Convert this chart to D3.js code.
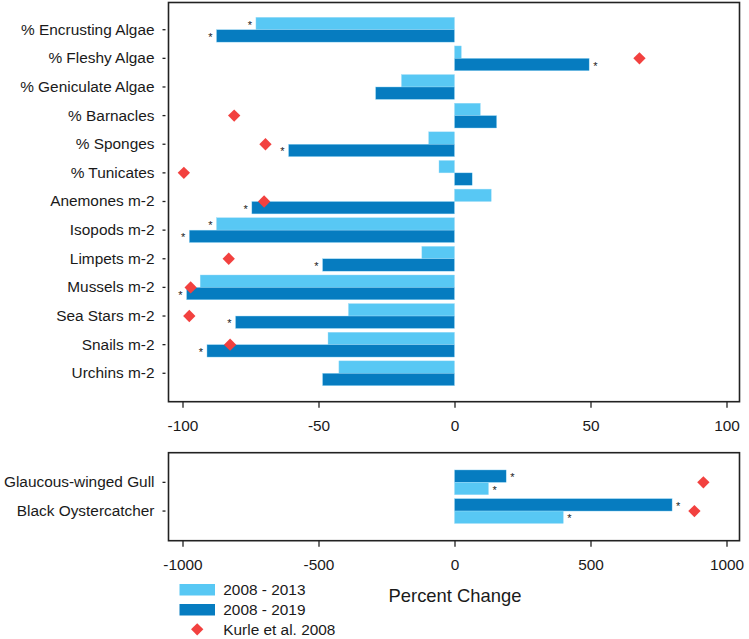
<!DOCTYPE html>
<html>
<head>
<meta charset="utf-8">
<script src="https://cdn.jsdelivr.net/npm/d3@7"></script>
<style>
  body { margin: 0; background: #fff; }
  svg { font-family: "Liberation Sans", Arial, sans-serif; }
</style>
</head>
<body>
<div id="chart"></div>
<script>
// Top panel: intertidal taxa, percent change
const categories = [
  '% Encrusting Algae', '% Fleshy Algae', '% Geniculate Algae', '% Barnacles',
  '% Sponges', '% Tunicates', 'Anemones m-2', 'Isopods m-2', 'Limpets m-2',
  'Mussels m-2', 'Sea Stars m-2', 'Snails m-2', 'Urchins m-2'
];
const change2013 = [-73, 2.5, -19.5, 9.5, -9.5, -5.7, 13.5, -87.5, -12, -93.5, -39, -46.5, -42.5];
const change2019 = [-87.5, 49.5, -29, 15.5, -61, 6.5, -74.5, -97.5, -48.5, -98.5, -80.5, -91, -48.5];
const kurle = [null, 68, null, -81, -69.5, -99.5, -70, null, -83, -97, -97.5, -82.5, null];
const star2013 = [1, 0, 0, 0, 0, 0, 0, 1, 0, 0, 0, 0, 0];
const star2019 = [1, 1, 0, 0, 1, 0, 1, 1, 1, 1, 1, 1, 0];

// Bottom panel: birds
const birds = ['Glaucous-winged Gull', 'Black Oystercatcher'];
const birds2013 = [125, 400];
const birds2019 = [190, 800];
const birdsKurle = [915, 882];
const birdsStar2013 = [1, 1];
const birdsStar2019 = [1, 1];

const topTicks = [-100, -50, 0, 50, 100];
const bottomTicks = [-1000, -500, 0, 500, 1000];
const legendLabels = ['2008 - 2013', '2008 - 2019', 'Kurle et al. 2008'];

const colLight = '#58c8f4';
const colDark = '#067cc0';
const colRed = '#f2413f';
const ink = '#1a1a1a';

const W = 749, H = 639;
const svg = d3.select('#chart').append('svg')
  .attr('width', W).attr('height', H);
svg.append('rect').attr('width', W).attr('height', H).attr('fill', '#fff');

const barH = 12.4;
const fs = 15.4;

function panel(opts) {
  const g = svg.append('g');
  const x = d3.scaleLinear().domain(opts.domain).range([182.5, 726.5]);
  const y = d3.scaleBand().domain(opts.cats).range(opts.yRange).padding(0);
  const half = y.bandwidth() / 2;
  const rows = opts.cats.map((c, i) => ({
    cat: c, a: opts.a[i], b: opts.b[i], k: opts.k[i], sa: opts.sa[i], sb: opts.sb[i]
  }));

  // bars: series order top to bottom within group
  const series = opts.order;
  const sub = d3.scaleBand().domain(series).range([-barH, barH]);
  const color = { a: colLight, b: colDark };
  series.forEach(s => {
    g.selectAll('.bar-' + s).data(rows).enter().append('rect')
      .attr('x', d => x(Math.min(0, d[s])))
      .attr('width', d => Math.abs(x(d[s]) - x(0)))
      .attr('y', d => y(d.cat) + half + sub(s))
      .attr('height', sub.bandwidth())
      .attr('fill', color[s])
      .attr('stroke', '#9fdcf7').attr('stroke-width', 0.4);

    g.selectAll('.star-' + s).data(rows.filter(d => d['s' + s])).enter().append('text')
      .attr('x', d => x(d[s]) + (d[s] < 0 ? -4 : 4))
      .attr('y', d => y(d.cat) + half + sub(s) + sub.bandwidth() / 2 + 5)
      .attr('text-anchor', d => d[s] < 0 ? 'end' : 'start')
      .attr('font-size', 11).attr('fill', ink)
      .text('*');
  });

  // Kurle diamonds
  g.selectAll('.kurle').data(rows.filter(d => d.k != null)).enter().append('path')
    .attr('d', d3.symbol(d3.symbolSquare, 76)())
    .attr('transform', d => `translate(${x(d.k)},${y(d.cat) + half}) rotate(45)`)
    .attr('fill', colRed);

  // frame
  g.append('rect')
    .attr('x', 168.5).attr('y', opts.box[0])
    .attr('width', 571).attr('height', opts.box[1] - opts.box[0])
    .attr('fill', 'none').attr('stroke', '#222').attr('stroke-width', 1.6);

  // x axis
  const xa = g.append('g')
    .attr('transform', `translate(0,${opts.box[1]})`)
    .call(d3.axisBottom(x).tickValues(opts.ticks).tickSize(6).tickPadding(12).tickFormat(d3.format('d')));
  xa.select('.domain').remove();
  xa.selectAll('line').attr('stroke', '#222').attr('stroke-width', 1.3);
  xa.selectAll('text').attr('font-size', fs).attr('fill', ink)
    .attr('font-family', '"Liberation Sans", Arial, sans-serif')
    .text(d => d < 0 ? '-' + Math.abs(d) : d);

  // y axis
  const ya = g.append('g')
    .attr('transform', 'translate(168.5,0)')
    .call(d3.axisLeft(y).tickSize(6).tickPadding(8));
  ya.select('.domain').remove();
  ya.selectAll('line').attr('stroke', '#222').attr('stroke-width', 1.3).attr('x1', -3);
  ya.selectAll('text').attr('font-size', fs).attr('fill', ink)
    .attr('x', -14)
    .attr('font-family', '"Liberation Sans", Arial, sans-serif');
}

panel({
  cats: categories, a: change2013, b: change2019, k: kurle, sa: star2013, sb: star2019,
  order: ['a', 'b'], domain: [-100, 100], yRange: [15.4, 387.6], box: [2.5, 401.7],
  ticks: topTicks
});

panel({
  cats: birds, a: birds2013, b: birds2019, k: birdsKurle, sa: birdsStar2013, sb: birdsStar2019,
  order: ['b', 'a'], domain: [-1000, 1000], yRange: [468, 525.4], box: [452.7, 540.7],
  ticks: bottomTicks
});

// x-axis title
svg.append('text')
  .attr('x', 455).attr('y', 602)
  .attr('text-anchor', 'middle')
  .attr('font-size', 18.4).attr('fill', ink)
  .text('Percent Change');

// legend
const leg = svg.append('g').attr('transform', 'translate(179.5,584)');
const ly = d3.scaleBand().domain(legendLabels).range([0, 60]);
leg.selectAll('.sw').data(legendLabels.slice(0, 2)).enter().append('rect')
  .attr('x', 0).attr('y', d => ly(d))
  .attr('width', 35.5).attr('height', 11.5)
  .attr('fill', (d, i) => i === 0 ? colLight : colDark);
leg.append('path')
  .attr('d', d3.symbol(d3.symbolSquare, 76)())
  .attr('transform', `translate(17.7,${ly(legendLabels[2]) + 5.3}) rotate(45)`)
  .attr('fill', colRed);
leg.selectAll('.lt').data(legendLabels).enter().append('text')
  .attr('x', 43.8).attr('y', d => ly(d) + 5.6)
  .attr('dy', '0.35em')
  .attr('font-size', fs).attr('fill', ink)
  .text(d => d);
</script>
</body>
</html>
